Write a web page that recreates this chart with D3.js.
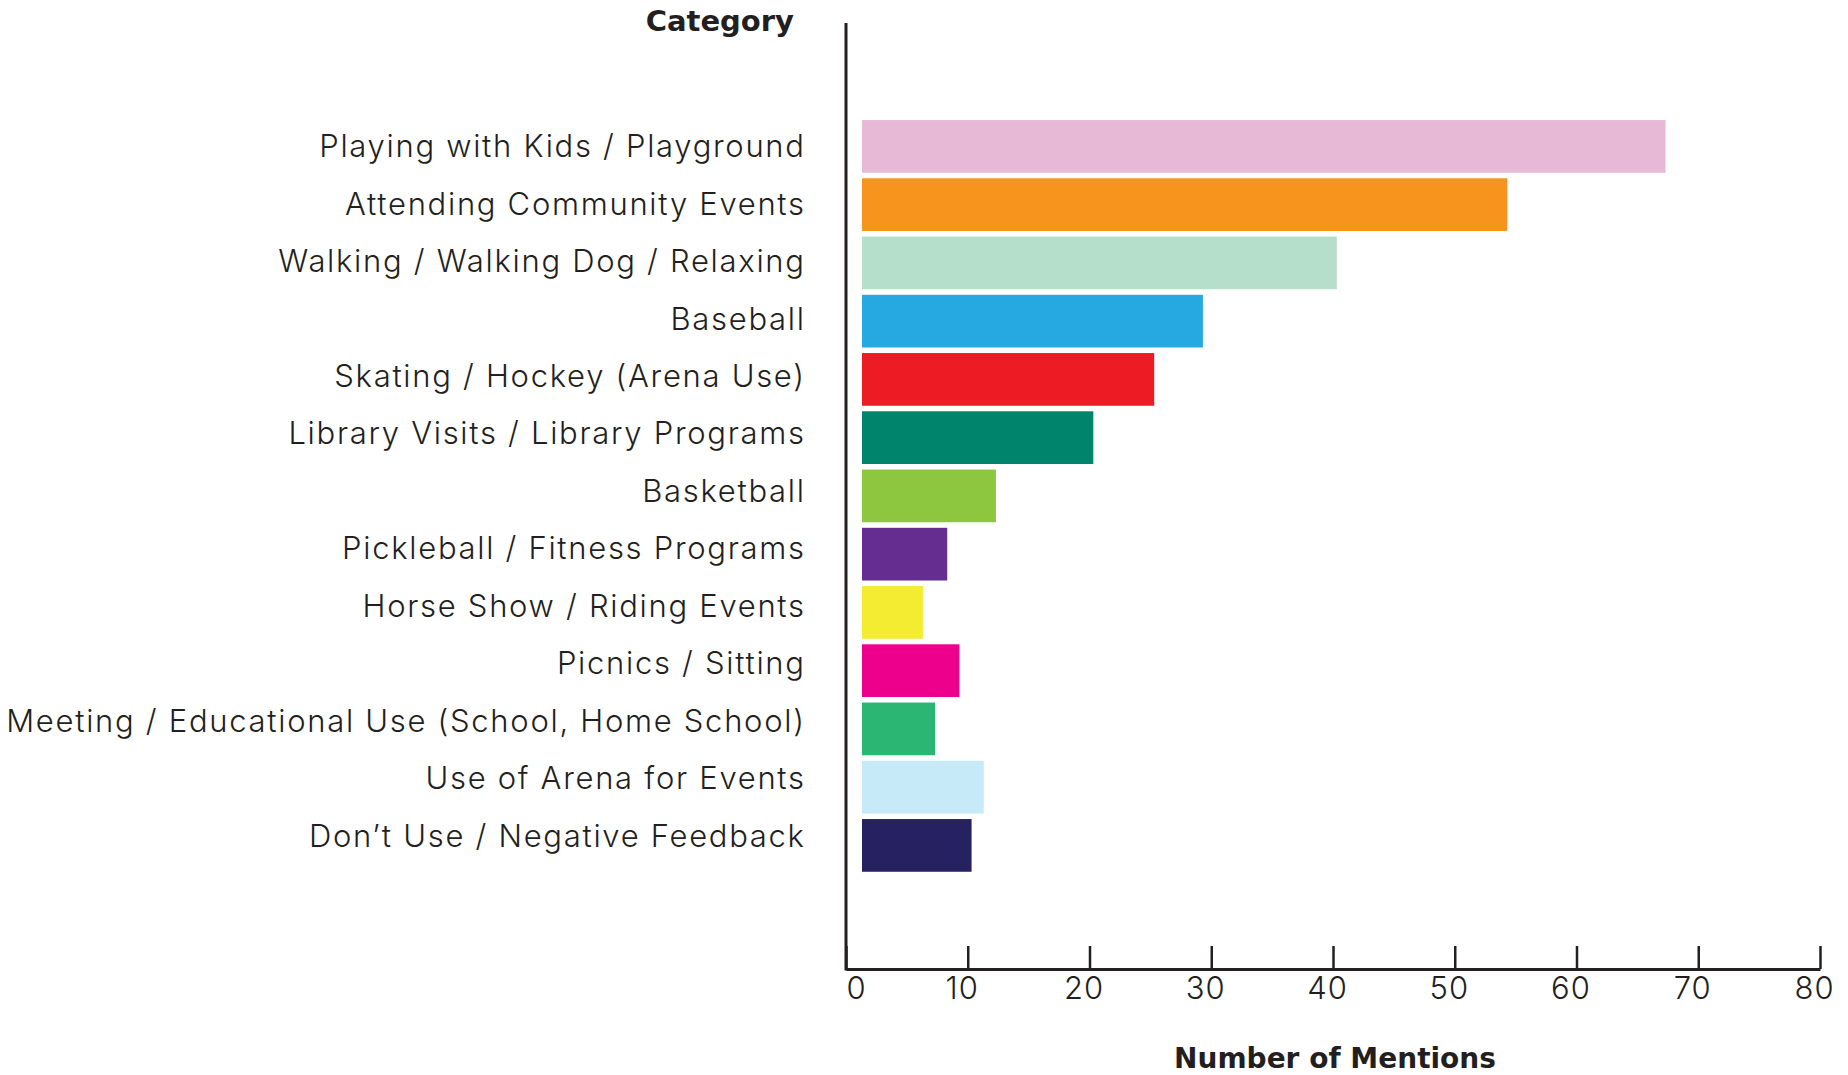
<!DOCTYPE html>
<html>
<head>
<meta charset="utf-8">
<script src="https://cdn.jsdelivr.net/npm/d3@7"></script>
<style>
  body { margin: 0; background: #fff; }
  svg { display: block; }
  .cat-label { font-family: Inter, sans-serif; font-weight: 300; letter-spacing: 1.7px; fill: #231f20; }
  .axis-title { font-family: "DejaVu Sans", sans-serif; font-weight: 700; fill: #231f20; }
  .axis--x text { font-family: Inter, sans-serif; font-weight: 300; letter-spacing: 1px; fill: #231f20; }
</style>
</head>
<body>
<div id="graph-container"></div>
<script>

// data
var categories = [
  'Playing with Kids / Playground',
  'Attending Community Events',
  'Walking / Walking Dog / Relaxing',
  'Baseball',
  'Skating / Hockey (Arena Use)',
  'Library Visits / Library Programs',
  'Basketball',
  'Pickleball / Fitness Programs',
  'Horse Show / Riding Events',
  'Picnics / Sitting',
  'Meeting / Educational Use (School, Home School)',
  'Use of Arena for Events',
  'Don\u2019t Use / Negative Feedback'
];
var mentions = [66, 53, 39, 28, 24, 19, 11, 7, 5, 8, 6, 10, 9];
var bar_colors = ['#e8b9d6', '#f7941d', '#b5dfca', '#25a9e0', '#ed1c24', '#00846c', '#8dc63f',
                  '#662d91', '#f3ec30', '#ec008c', '#2bb673', '#c7eaf8', '#262262'];
var x_ticks = [0, 10, 20, 30, 40, 50, 60, 70, 80];
var x_title = 'Number of Mentions';
var y_title = 'Category';

/////////////////////////////////////////////////////////////////////////////
                      ///////    Variables    ///////
/////////////////////////////////////////////////////////////////////////////

var width = 1848, height = 1075;
var axis_x = 846, axis_top = 23, axis_bottom = 969, axis_right = 1820;
var bar_gap = 16;           // bars start a little right of the axis line
var label_right = 805.7;
var ink = '#231f20';

var data = categories.map((c, i) => ({name: c, value: mentions[i], color: bar_colors[i]}));

/////////////////////////////////////////////////////////////////////////////
                      ///////    Set Up Chart    ///////
/////////////////////////////////////////////////////////////////////////////

var svg = d3.select('#graph-container').append('svg')
    .attr('width', width).attr('height', height);

var x = d3.scaleLinear().domain([0, 80]).range([axis_x, axis_right]);

var y = d3.scaleBand().domain(categories).range([114.5, 877.3]).padding(0.095);
var y_label = d3.scalePoint().domain(categories).range([146, 835.5]);

// bars
svg.append('g').selectAll('.bar').data(data).enter()
    .append('rect')
    .attr('class', 'bar')
    .attr('x', x(0) + bar_gap)
    .attr('y', d => y(d.name))
    .attr('width', d => x(d.value) - x(0))
    .attr('height', y.bandwidth())
    .style('fill', d => d.color);

// category labels
svg.append('g').selectAll('.cat-label').data(data).enter()
    .append('text')
    .attr('class', 'cat-label')
    .attr('x', label_right)
    .attr('y', d => y_label(d.name))
    .attr('dy', '0.36em')
    .style('font-size', '31px')
    .style('text-anchor', 'end')
    .text(d => d.name);

// x axis
var x_axis = d3.axisBottom(x).tickValues(x_ticks).tickSize(-23).tickSizeOuter(0).tickPadding(8);
var gx = svg.append('g').attr('class', 'axis axis--x')
    .attr('transform', `translate(0,${axis_bottom})`)
    .call(x_axis);
gx.select('.domain').attr('stroke', ink).attr('stroke-width', 3);
gx.selectAll('.tick line').attr('stroke', ink).attr('stroke-width', 2.5);
gx.selectAll('.tick text')
    .style('font-size', '31px')
    .attr('dx', d => d === 0 ? 0 : -6)
    .style('text-anchor', d => d === 0 ? 'start' : 'middle');

// y axis line
svg.append('line')
    .attr('x1', axis_x).attr('x2', axis_x)
    .attr('y1', axis_top).attr('y2', axis_bottom + 1.5)
    .attr('stroke', ink).attr('stroke-width', 3);

// titles
svg.append('text').attr('class', 'axis-title')
    .attr('x', 794).attr('y', 31)
    .style('font-size', '29px')
    .style('text-anchor', 'end')
    .text(y_title);

svg.append('text').attr('class', 'axis-title')
    .attr('x', 1335).attr('y', 1068)
    .style('font-size', '28px')
    .style('text-anchor', 'middle')
    .text(x_title);

</script>
</body>
</html>
